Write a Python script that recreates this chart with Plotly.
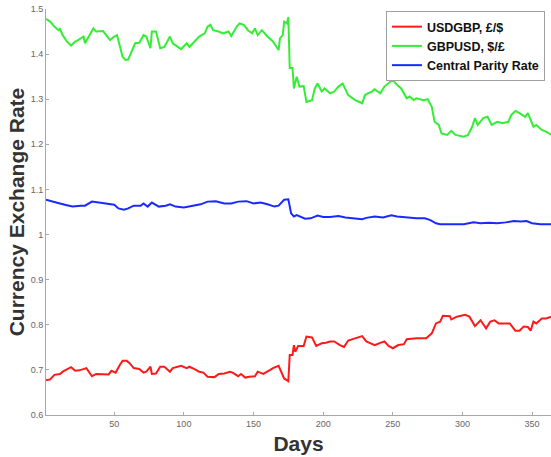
import plotly.graph_objects as go

# ---- data ----
gbpusd_days = [1, 4, 7, 10, 11, 13, 16, 19, 22, 24, 28, 29, 31, 35, 37, 40, 42, 47, 50, 52, 54, 56, 58, 60, 62, 65, 68, 71, 73, 76, 77, 80, 83, 86, 90, 92, 98, 102, 104, 108, 111, 115, 117, 119, 121, 125, 128, 132, 134, 138, 140, 143, 146, 149, 151, 153, 156, 160, 164, 168, 169, 171, 172, 174, 175, 176, 178, 179, 181, 183, 186, 188, 192, 194, 196, 199, 201, 205, 208, 211, 214, 218, 223, 228, 230, 232, 235, 237, 241, 244, 250, 253, 256, 260, 262, 265, 267, 272, 275, 278, 280, 283, 285, 289, 292, 295, 301, 304, 307, 309, 311, 315, 318, 321, 325, 329, 333, 335, 338, 341, 345, 347, 351, 353, 357, 360, 364]
gbpusd_vals = [1.478, 1.472, 1.461, 1.453, 1.456, 1.442, 1.428, 1.419, 1.428, 1.431, 1.439, 1.424, 1.435, 1.457, 1.450, 1.450, 1.451, 1.431, 1.439, 1.442, 1.416, 1.394, 1.387, 1.388, 1.402, 1.424, 1.425, 1.442, 1.439, 1.413, 1.450, 1.450, 1.413, 1.416, 1.439, 1.424, 1.411, 1.424, 1.416, 1.428, 1.439, 1.446, 1.461, 1.465, 1.453, 1.450, 1.446, 1.450, 1.440, 1.461, 1.468, 1.465, 1.453, 1.446, 1.457, 1.442, 1.453, 1.439, 1.428, 1.409, 1.435, 1.442, 1.472, 1.468, 1.482, 1.369, 1.369, 1.324, 1.350, 1.328, 1.329, 1.294, 1.298, 1.324, 1.335, 1.317, 1.324, 1.313, 1.317, 1.328, 1.335, 1.309, 1.298, 1.291, 1.309, 1.313, 1.317, 1.322, 1.313, 1.328, 1.343, 1.332, 1.324, 1.302, 1.306, 1.298, 1.302, 1.298, 1.300, 1.283, 1.250, 1.243, 1.224, 1.221, 1.230, 1.221, 1.217, 1.221, 1.239, 1.258, 1.243, 1.258, 1.261, 1.243, 1.250, 1.247, 1.250, 1.265, 1.274, 1.269, 1.261, 1.269, 1.239, 1.243, 1.232, 1.228, 1.221]

usdgbp_days = [1, 4, 7, 11, 13, 16, 19, 22, 25, 30, 32, 34, 37, 42, 46, 48, 51, 54, 56, 59, 61, 64, 68, 71, 73, 76, 77, 80, 83, 86, 90, 92, 98, 102, 104, 108, 111, 114, 117, 122, 125, 129, 133, 135, 139, 141, 144, 147, 151, 153, 157, 162, 164, 168, 170, 172, 175, 176, 178, 179, 180, 182, 186, 188, 192, 195, 199, 202, 205, 208, 212, 215, 218, 223, 228, 231, 237, 241, 244, 247, 250, 254, 258, 260, 264, 267, 274, 278, 281, 284, 286, 291, 292, 296, 299, 302, 305, 309, 313, 317, 320, 323, 326, 329, 334, 338, 341, 344, 347, 349, 351, 353, 357, 360, 364]
usdgbp_vals = [0.677, 0.679, 0.689, 0.691, 0.696, 0.701, 0.706, 0.698, 0.699, 0.704, 0.696, 0.686, 0.691, 0.690, 0.690, 0.698, 0.694, 0.711, 0.720, 0.720, 0.715, 0.704, 0.702, 0.694, 0.696, 0.707, 0.691, 0.692, 0.707, 0.707, 0.696, 0.704, 0.709, 0.704, 0.707, 0.701, 0.696, 0.694, 0.685, 0.684, 0.691, 0.692, 0.696, 0.694, 0.686, 0.691, 0.683, 0.685, 0.686, 0.696, 0.691, 0.700, 0.704, 0.709, 0.696, 0.681, 0.675, 0.733, 0.733, 0.755, 0.740, 0.753, 0.753, 0.774, 0.772, 0.753, 0.759, 0.760, 0.763, 0.763, 0.755, 0.751, 0.765, 0.770, 0.775, 0.763, 0.755, 0.760, 0.763, 0.753, 0.748, 0.755, 0.757, 0.768, 0.770, 0.770, 0.770, 0.781, 0.803, 0.807, 0.820, 0.819, 0.812, 0.818, 0.820, 0.822, 0.818, 0.797, 0.810, 0.792, 0.807, 0.810, 0.803, 0.803, 0.803, 0.787, 0.787, 0.796, 0.795, 0.787, 0.807, 0.803, 0.814, 0.814, 0.818]

parity_days = [1, 7, 11, 16, 20, 26, 29, 34, 40, 46, 50, 53, 57, 60, 64, 69, 71, 74, 77, 82, 87, 90, 94, 100, 106, 112, 117, 123, 129, 134, 139, 145, 150, 155, 160, 165, 168, 172, 175, 177, 179, 181, 187, 191, 196, 200, 205, 211, 216, 222, 228, 231, 237, 243, 249, 253, 258, 263, 267, 273, 277, 281, 284, 294, 301, 308, 313, 319, 325, 331, 337, 342, 346, 350, 356, 364]
parity_vals = [1.077, 1.073, 1.069, 1.065, 1.062, 1.064, 1.064, 1.073, 1.071, 1.069, 1.066, 1.058, 1.055, 1.058, 1.064, 1.064, 1.069, 1.062, 1.071, 1.062, 1.064, 1.067, 1.062, 1.060, 1.064, 1.067, 1.073, 1.074, 1.069, 1.069, 1.073, 1.074, 1.069, 1.071, 1.067, 1.062, 1.064, 1.077, 1.078, 1.047, 1.040, 1.043, 1.035, 1.036, 1.042, 1.039, 1.039, 1.041, 1.038, 1.036, 1.034, 1.037, 1.040, 1.038, 1.043, 1.040, 1.038, 1.036, 1.036, 1.036, 1.032, 1.025, 1.023, 1.023, 1.023, 1.027, 1.025, 1.026, 1.025, 1.027, 1.030, 1.029, 1.030, 1.025, 1.023, 1.023]

series_names = ["USDGBP, £/$", "GBPUSD, $/£", "Central Parity Rate"]
x_ticks = [50, 100, 150, 200, 250, 300, 350]
y_ticks = [0.6, 0.7, 0.8, 0.9, 1.0, 1.1, 1.2, 1.3, 1.4, 1.5]
y_tick_text = ["0.6", "0.7", "0.8", "0.9", "1", "1.1", "1.2", "1.3", "1.4", "1.5"]

fig = go.Figure()
fig.add_trace(go.Scatter(x=usdgbp_days, y=usdgbp_vals, mode="lines",
                         name="<b>" + series_names[0] + "</b>",
                         line=dict(color="#ff1a1a", width=2)))
fig.add_trace(go.Scatter(x=gbpusd_days, y=gbpusd_vals, mode="lines",
                         name="<b>" + series_names[1] + "</b>",
                         line=dict(color="#33ee33", width=2)))
fig.add_trace(go.Scatter(x=parity_days, y=parity_vals, mode="lines",
                         name="<b>" + series_names[2] + "</b>",
                         line=dict(color="#1a2aff", width=2)))

axis_common = dict(showgrid=False, zeroline=False, showline=True, linecolor="#a8a8a8",
                   linewidth=1, ticks="inside", ticklen=3, tickcolor="#a8a8a8",
                   tickfont=dict(family="Liberation Sans, Arial", size=9, color="#666666"),
                   mirror=False)

fig.update_layout(
    width=551, height=457,
    margin=dict(l=46, r=0, t=9, b=42),
    paper_bgcolor="white", plot_bgcolor="white",
    xaxis=dict(range=[1, 363.6], tickvals=x_ticks, **axis_common,
               title=dict(text="<b>Days</b>", standoff=8,
                          font=dict(family="Liberation Sans, Arial", size=21, color="#333333"))),
    yaxis=dict(range=[0.6, 1.5], tickvals=y_ticks, ticktext=y_tick_text, **axis_common,
               title=dict(text="<b>Currency Exchange Rate</b>", standoff=0,
                          font=dict(family="Liberation Sans, Arial", size=21, color="#333333"))),
    legend=dict(x=0.988, y=0.995, xanchor="right", yanchor="top",
                bgcolor="white", bordercolor="#a0a0a0", borderwidth=1,
                font=dict(family="Liberation Sans, Arial", size=12.5, color="#111111"),
                tracegroupgap=0, itemwidth=30),
    showlegend=True,
)

fig.write_html("out.html", config={"displayModeBar": False},
               post_script="document.body.style.margin='0';document.body.style.overflow='hidden';")
